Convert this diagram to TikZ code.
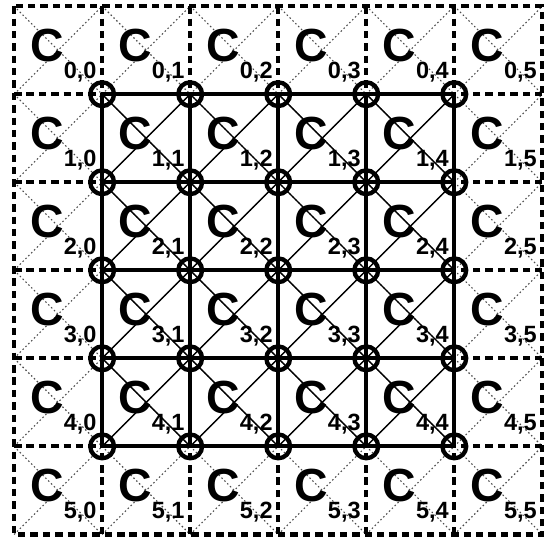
\documentclass[tikz,border=0pt]{standalone}
\usepackage{fontspec}
\setmainfont{Liberation Sans}

\tikzset{
  dashedline/.style={line width=1.35pt, dash pattern=on 2.4pt off 1.6pt},
  gridline/.style={line width=1.3pt},
  diagline/.style={line width=0.45pt},
  dotline/.style={line width=0.35pt, gray!60!black, dash pattern=on 0.5pt off 0.8pt},
  junction/.style={circle, draw, line width=1.4pt, minimum size=0.27cm, inner sep=0pt},
  celllabel/.style={font=\bfseries, inner sep=0pt}
}
\newcommand{\cellname}[2]{{\fontsize{15}{16}\selectfont C}\raisebox{-5.5pt}{\fontsize{7.6}{8}\selectfont #1,#2}}

\begin{document}
\begin{tikzpicture}

  \useasboundingbox (-0.16,-0.12) rectangle (6.03,6.07);

  % Corners of the outer frame
  \coordinate (nw) at (0,6);
  \coordinate (se) at (6,0);

  % Junctions of the inner grid
  \foreach \r in {1,...,5}
    \foreach \c in {1,...,5}
      \coordinate (j-\r-\c) at (\c,6-\r);

  % Dotted diagonals in every cell
  \foreach \r in {0,...,5}
    \foreach \c in {0,...,5} {
      \draw[dotline] (\c,6-\r) -- (\c+1,5-\r);
      \draw[dotline] (\c,5-\r) -- (\c+1,6-\r);
    }

  % Solid diagonals inside the inner grid
  \foreach \r in {1,...,4}
    \foreach \c in {1,...,4} {
      \pgfmathtruncatemacro{\rr}{\r+1}
      \pgfmathtruncatemacro{\cc}{\c+1}
      \draw[diagline] (j-\r-\c) -- (j-\rr-\cc);
      \draw[diagline] (j-\rr-\c) -- (j-\r-\cc);
    }

  % Dashed outer frame and stubs
  \draw[dashedline] (nw) rectangle (se);
  \foreach \k in {1,...,5} {
    \coordinate (top-\k) at (\k,6);
    \coordinate (bot-\k) at (\k,0);
    \coordinate (lft-\k) at (0,6-\k);
    \coordinate (rgt-\k) at (6,6-\k);
    \draw[dashedline] (top-\k) -- (j-1-\k);
    \draw[dashedline] (bot-\k) -- (j-5-\k);
    \draw[dashedline] (lft-\k) -- (j-\k-1);
    \draw[dashedline] (rgt-\k) -- (j-\k-5);
  }

  % Solid inner grid
  \foreach \k in {1,...,5} {
    \draw[gridline] (j-1-\k) -- (j-5-\k);
    \draw[gridline] (j-\k-1) -- (j-\k-5);
  }

  % Circles at the junctions
  \foreach \r in {1,...,5}
    \foreach \c in {1,...,5}
      \node[junction] (o-\r-\c) at (j-\r-\c) {};

  % Cell labels
  \foreach \r in {0,...,5}
    \foreach \c in {0,...,5}
      \node[celllabel] (c-\r-\c) at (\c+0.56,5.44-\r) {\cellname{\r}{\c}};

\end{tikzpicture}
\end{document}
